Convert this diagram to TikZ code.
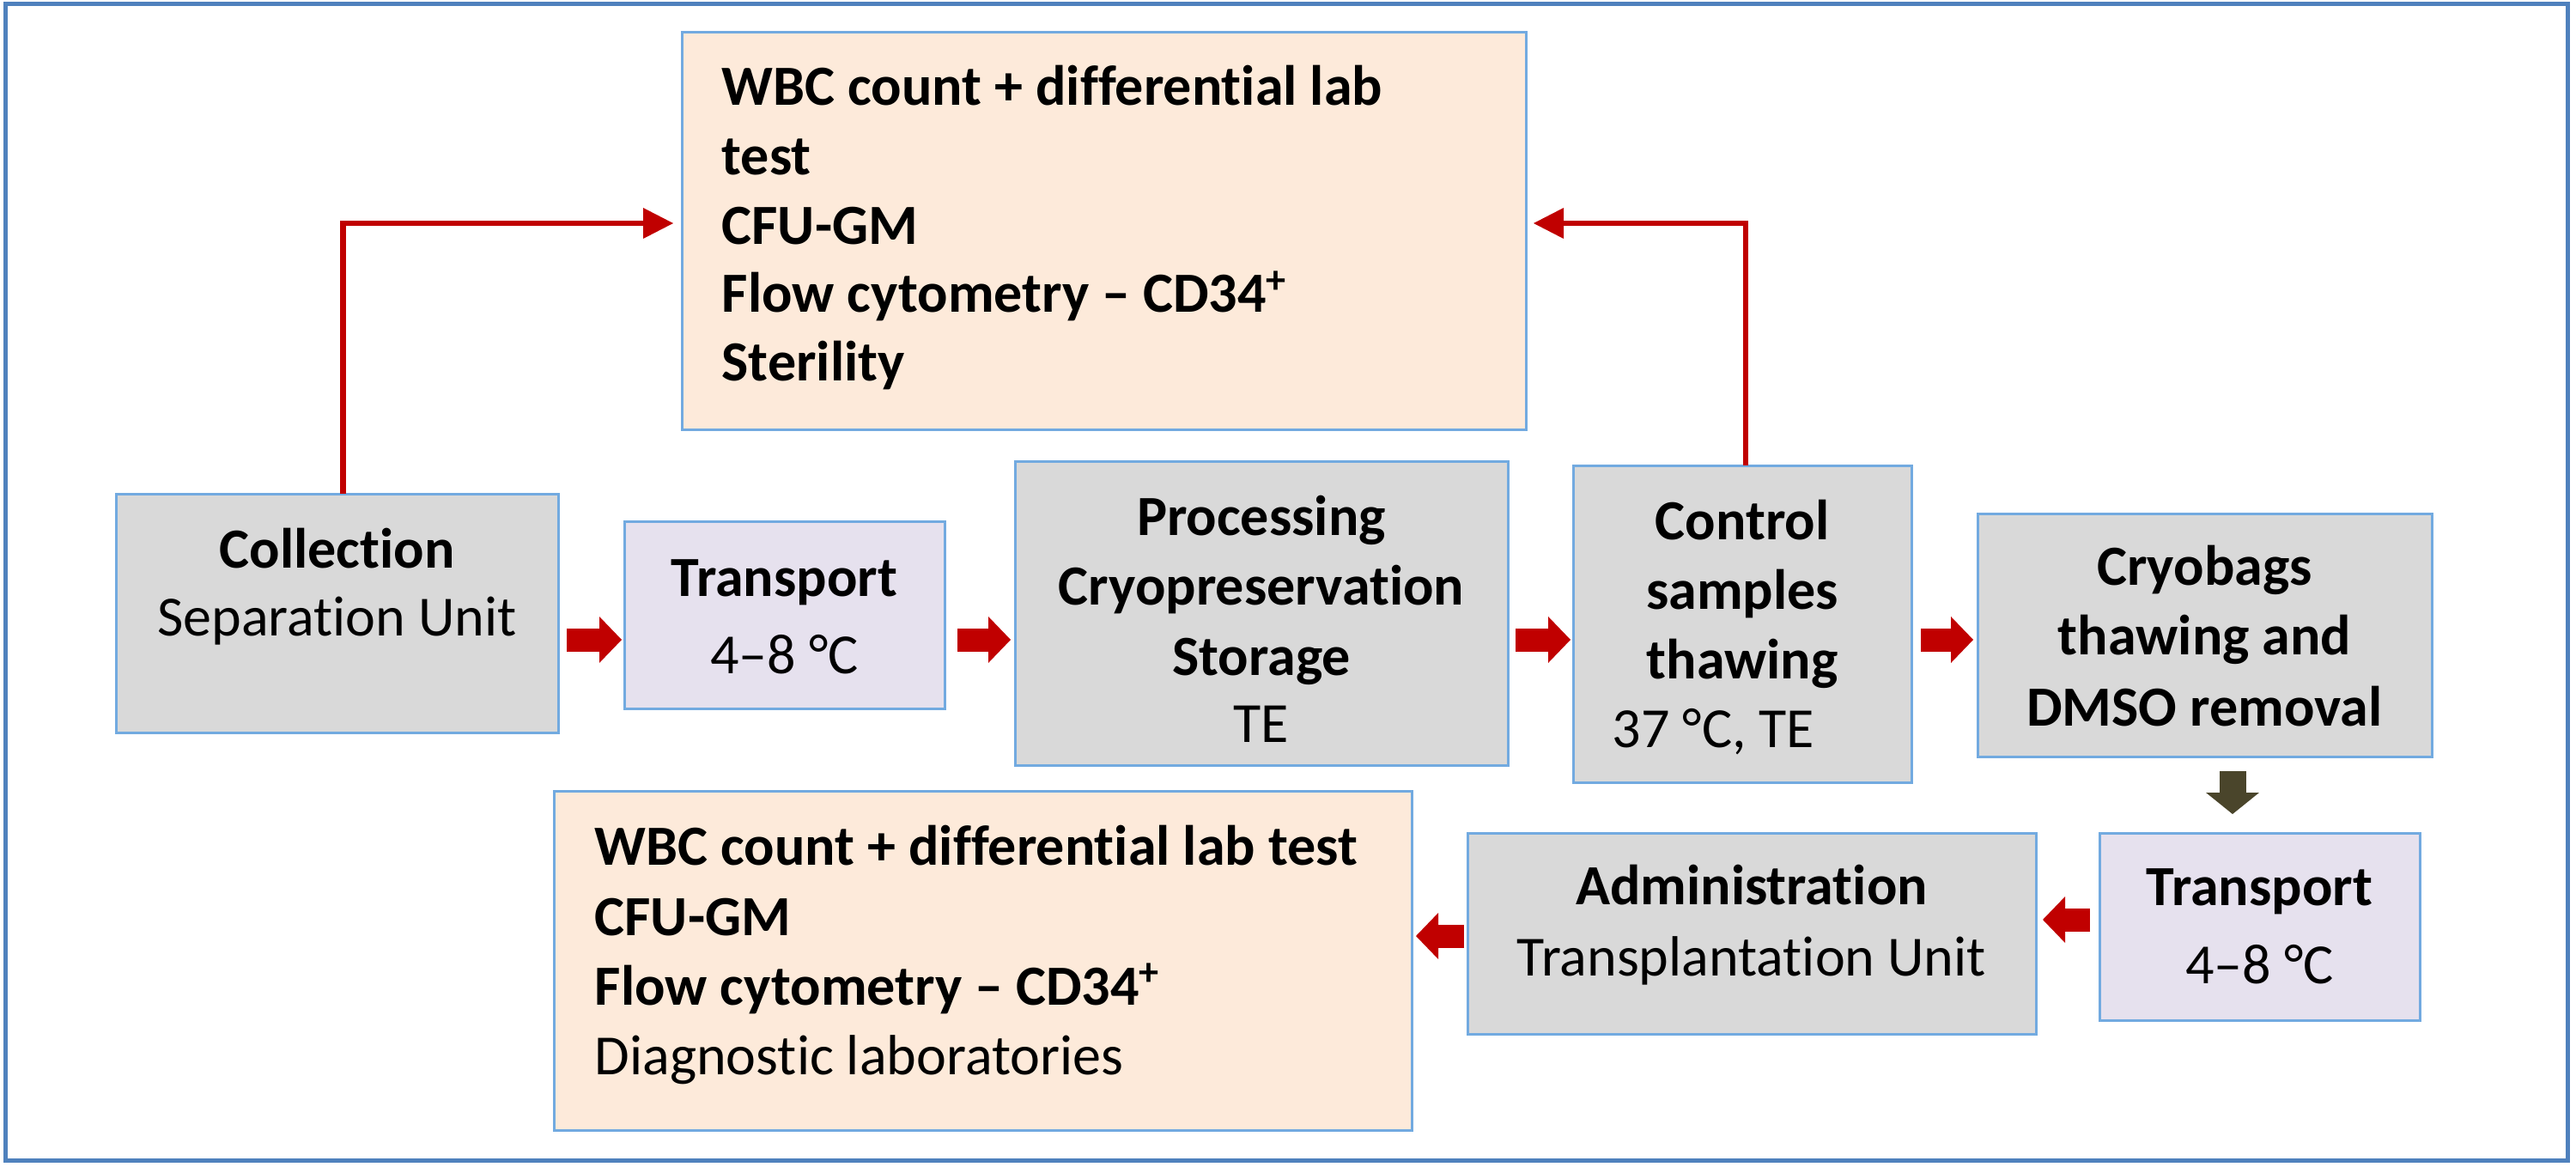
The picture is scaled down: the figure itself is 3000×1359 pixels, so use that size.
\documentclass[tikz,border=0pt]{standalone}
\usepackage{fontspec}
\setmainfont{Carlito}[Ligatures=NoCommon]
\usetikzlibrary{arrows.meta,calc}
\definecolor{boxline}{HTML}{72AAE0}
\definecolor{grayfill}{HTML}{D9D9D9}
\definecolor{orfill}{HTML}{FDEADA}
\definecolor{lavfill}{HTML}{E6E1EE}
\definecolor{frameblue}{HTML}{4F81BD}
\definecolor{arrred}{HTML}{C00000}
\definecolor{arrolive}{HTML}{4A452B}
\newcommand\mydfs{\fontsize{18.8pt}{23pt}\selectfont}
\tikzset{
 boxbase/.style={draw=boxline, line width=0.3mm, inner sep=0pt, outer sep=0pt},
 graybox/.style={boxbase, fill=grayfill},
 orbox/.style={boxbase, fill=orfill},
 lavbox/.style={boxbase, fill=lavfill},
 lnc/.style={anchor=base, inner sep=0pt, font=\mydfs},
 lnl/.style={anchor=base west, inner sep=0pt, font=\mydfs},
 bf/.style={font=\mydfs\bfseries},
 feed/.style={draw=arrred, line width=0.65mm, -{Triangle[length=3.5mm,width=3.6mm,line width=0pt]}},
 blockr/.style={draw=arrred, line width=2.7mm, -{Triangle[length=2.6mm,width=5.4mm,line width=0pt]}},
 blocko/.style={draw=arrolive, line width=3.1mm, -{Triangle[length=2.5mm,width=6.2mm,line width=0pt]}},
}
\begin{document}
\begin{tikzpicture}[x=0.1mm,y=-0.1mm]
\useasboundingbox (0,0) rectangle (3000,1359);
\node[draw=frameblue, line width=0.5mm, inner sep=0pt, minimum width=298.4mm, minimum height=134.6mm] (frame) at (1498,678) {};

% boxes
\node[orbox, minimum width=98.3mm, minimum height=46.3mm] (top) at (1285.5,269.5) {};
\node[graybox, minimum width=51.5mm, minimum height=27.8mm] (coll) at (392.5,714) {};
\node[lavbox, minimum width=37.3mm, minimum height=21.8mm] (tr1) at (913.5,716) {};
\node[graybox, minimum width=57.4mm, minimum height=35.4mm] (proc) at (1469,714) {};
\node[graybox, minimum width=39.4mm, minimum height=36.9mm] (ctrl) at (2029,726.5) {};
\node[graybox, minimum width=52.9mm, minimum height=28.3mm] (cryo) at (2567.5,739.5) {};
\node[lavbox, minimum width=37.3mm, minimum height=21.8mm] (tr2) at (2631.5,1079) {};
\node[graybox, minimum width=66.2mm, minimum height=23.4mm] (adm) at (2040,1087) {};
\node[orbox, minimum width=99.9mm, minimum height=39.5mm] (bot) at (1144.5,1118.5) {};

% texts
\node[lnl,bf] (topA) at (840,123) {WBC count + differential lab};
\node[lnl,bf] (topB) at (840,204) {test};
\node[lnl,bf] (topC) at (840,285) {CFU-GM};
\node[lnl,bf] (topD) at (840,364) {Flow cytometry – CD34\textsuperscript{+}};
\node[lnl,bf] (topE) at (840,444) {Sterility};

\node[lnc,bf] (collA) at (392.5,661) {Collection};
\node[lnc] (collB) at (392.5,740) {Separation Unit};

\node[lnc,bf] (tr1A) at (913.5,694) {Transport};
\node[lnc] (tr1B) at (913.5,784) {4–8 °C};

\node[lnc,bf] (procA) at (1469,623) {Processing};
\node[lnc,bf] (procB) at (1469,704) {Cryopreservation};
\node[lnc,bf] (procC) at (1469,786) {Storage};
\node[lnc] (procD) at (1469,864) {TE};

\node[lnc,bf] (ctrlA) at (2029,629) {Control};
\node[lnc,bf] (ctrlB) at (2029,709) {samples};
\node[lnc,bf] (ctrlC) at (2029,790) {thawing};
\node[lnc] (ctrlD) at (1995.5,870) {37 °C, TE};

\node[lnc,bf] (cryoA) at (2567.5,682) {Cryobags};
\node[lnc,bf] (cryoB) at (2567.5,762) {thawing and};
\node[lnc,bf] (cryoC) at (2567.5,845) {DMSO removal};

\node[lnc,bf] (tr2A) at (2631.5,1054) {Transport};
\node[lnc] (tr2B) at (2631.5,1145) {4–8 °C};

\node[lnc,bf] (admA) at (2040,1053) {Administration};
\node[lnc] (admB) at (2040,1136) {Transplantation Unit};

\node[lnl,bf] (botA) at (692,1007) {WBC count + differential lab test};
\node[lnl,bf] (botB) at (692,1089) {CFU-GM};
\node[lnl,bf] (botC) at (692,1170) {Flow cytometry – CD34\textsuperscript{+}};
\node[lnl] (botD) at (692,1251) {Diagnostic laboratories};

% feedback connectors
\draw[feed] ([xshift=0.7mm]coll.north) |- ([xshift=-1mm,yshift=0.95mm]top.west);
\draw[feed] ([xshift=0.4mm]ctrl.north) |- ([xshift=0.9mm,yshift=0.95mm]top.east);

% block arrows
\coordinate (r1) at (0,745);
\coordinate (r2) at (0,1071);
\coordinate (r3) at (0,1090);
\coordinate (c5) at (2600,0);
\draw[blockr] ([xshift=1mm]coll.east |- r1) -- ([xshift=-0.3mm]tr1.west |- r1);
\draw[blockr] ([xshift=1.5mm]tr1.east |- r1) -- ([xshift=-0.5mm]proc.west |- r1);
\draw[blockr] ([xshift=0.9mm]proc.east |- r1) -- ([xshift=-0.3mm]ctrl.west |- r1);
\draw[blockr] ([xshift=1.1mm]ctrl.east |- r1) -- ([xshift=-0.5mm]cryo.west |- r1);
\draw[blocko] ([yshift=-1.7mm]cryo.south -| c5) -- ([yshift=2.2mm]tr2.north -| c5);
\draw[blockr] ([xshift=-1.1mm]tr2.west |- r2) -- ([xshift=0.8mm]adm.east |- r2);
\draw[blockr] ([xshift=-0.4mm]adm.west |- r3) -- ([xshift=0.5mm]bot.east |- r3);
\end{tikzpicture}
\end{document}
